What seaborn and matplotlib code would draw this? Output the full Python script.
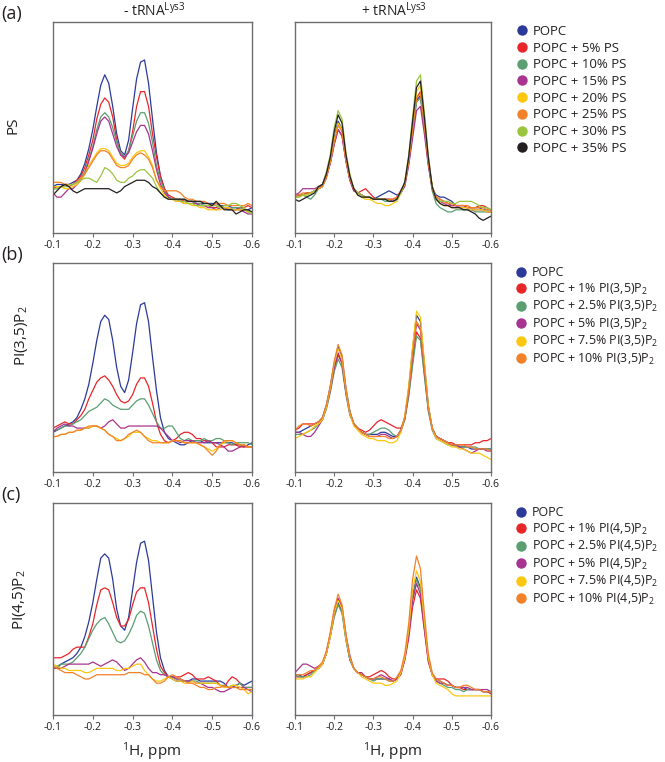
import matplotlib
matplotlib.use("Agg")
import matplotlib.pyplot as plt
import pandas as pd
import seaborn as sns
from matplotlib.lines import Line2D

# %% data: 1H chemical shift grid and spectra (intensity, % of panel height)
ppm = [-0.10, -0.11, -0.12, -0.13, -0.14, -0.15, -0.16, -0.17, -0.18, -0.19,
       -0.20, -0.21, -0.22, -0.23, -0.24, -0.25, -0.26, -0.27, -0.28, -0.29,
       -0.30, -0.31, -0.32, -0.33, -0.34, -0.35, -0.36, -0.37, -0.38, -0.39,
       -0.40, -0.41, -0.42, -0.43, -0.44, -0.45, -0.46, -0.47, -0.48, -0.49,
       -0.50, -0.51, -0.52, -0.53, -0.54, -0.55, -0.56, -0.57, -0.58, -0.59,
       -0.60]

ps_labels = ["POPC", "POPC + 5% PS", "POPC + 10% PS", "POPC + 15% PS",
             "POPC + 20% PS", "POPC + 25% PS", "POPC + 30% PS", "POPC + 35% PS"]
pi35_labels = ["POPC", "POPC + 1% PI(3,5)P$_2$", "POPC + 2.5% PI(3,5)P$_2$",
               "POPC + 5% PI(3,5)P$_2$", "POPC + 7.5% PI(3,5)P$_2$",
               "POPC + 10% PI(3,5)P$_2$"]
pi45_labels = ["POPC", "POPC + 1% PI(4,5)P$_2$", "POPC + 2.5% PI(4,5)P$_2$",
               "POPC + 5% PI(4,5)P$_2$", "POPC + 7.5% PI(4,5)P$_2$",
               "POPC + 10% PI(4,5)P$_2$"]

# (a) PS, - tRNA
ps_free_0 = [22, 23, 23, 23, 23, 24, 25, 28, 33, 40,
             49, 60, 70, 75, 71, 60, 47, 39, 37, 44,
             59, 73, 81, 82, 71, 54, 38, 27, 21, 17,
             16, 16, 15, 15, 15, 15, 14, 14, 14, 14,
             14, 14, 13, 13, 13, 12, 12, 11, 11, 11,
             12]
ps_free_5 = [21, 22, 22, 23, 23, 23, 25, 27, 31, 37,
             44, 54, 61, 64, 62, 55, 44, 37, 35, 39,
             48, 60, 67, 67, 60, 47, 36, 27, 21, 18,
             17, 16, 16, 15, 15, 15, 14, 13, 13, 13,
             12, 12, 13, 12, 12, 11, 11, 12, 12, 13,
             12]
ps_free_10 = [21, 21, 22, 22, 22, 23, 24, 26, 29, 35,
              41, 49, 55, 57, 55, 50, 43, 38, 36, 39,
              46, 53, 57, 57, 52, 43, 32, 25, 20, 17,
              16, 16, 16, 16, 15, 15, 14, 14, 13, 13,
              13, 13, 12, 12, 11, 12, 12, 12, 11, 10,
              10]
ps_free_15 = [19, 17, 17, 19, 21, 21, 23, 25, 28, 34,
              40, 47, 53, 55, 53, 47, 41, 37, 36, 38,
              43, 48, 51, 51, 47, 39, 30, 23, 19, 17,
              16, 15, 15, 14, 14, 14, 14, 13, 13, 12,
              12, 11, 12, 12, 11, 11, 11, 11, 10, 9,
              9]
ps_free_20 = [22, 22, 22, 21, 21, 22, 23, 25, 28, 32,
              35, 38, 40, 40, 39, 36, 33, 32, 32, 33,
              36, 38, 39, 39, 36, 32, 25, 21, 18, 16,
              16, 15, 15, 14, 14, 13, 13, 12, 12, 11,
              11, 11, 11, 12, 12, 11, 11, 11, 11, 10,
              10]
ps_free_25 = [24, 24, 24, 23, 22, 23, 24, 26, 28, 31,
              34, 37, 39, 39, 38, 35, 32, 31, 31, 32,
              35, 37, 38, 37, 35, 31, 25, 22, 20, 20,
              20, 20, 19, 17, 16, 16, 15, 15, 15, 14,
              13, 14, 14, 14, 13, 13, 13, 13, 13, 14,
              13]
ps_free_30 = [21, 21, 22, 22, 23, 23, 24, 25, 26, 26,
              25, 24, 27, 31, 30, 28, 25, 24, 24, 26,
              27, 29, 30, 30, 28, 26, 22, 19, 17, 16,
              16, 16, 15, 15, 14, 14, 13, 13, 13, 13,
              13, 13, 12, 13, 13, 14, 14, 13, 12, 10,
              9]
ps_free_35 = [18, 20, 22, 23, 22, 20, 19, 20, 21, 21,
              21, 21, 21, 21, 21, 20, 19, 20, 22, 23,
              24, 25, 25, 25, 24, 22, 21, 19, 17, 16,
              16, 16, 16, 16, 15, 15, 15, 15, 14, 14,
              13, 15, 13, 11, 11, 11, 9, 10, 11, 11,
              10]

# (a) PS, + tRNA
ps_bound_0 = [18, 18, 18, 19, 19, 20, 21, 23, 27, 35,
              45, 53, 49, 36, 26, 21, 19, 18, 17, 17,
              16, 17, 18, 19, 20, 19, 18, 19, 23, 34,
              48, 63, 65, 50, 34, 21, 18, 17, 17, 16,
              15, 13, 13, 13, 12, 12, 12, 12, 11, 11,
              11]
ps_bound_5 = [17, 18, 18, 19, 19, 20, 21, 22, 26, 33,
              42, 49, 46, 34, 25, 20, 19, 20, 21, 19,
              17, 16, 16, 16, 16, 16, 17, 20, 23, 34,
              49, 64, 67, 52, 34, 22, 17, 16, 15, 14,
              13, 13, 13, 13, 12, 12, 12, 13, 13, 12,
              11]
ps_bound_10 = [17, 17, 18, 17, 16, 18, 21, 22, 27, 34,
               44, 52, 49, 35, 26, 21, 19, 18, 17, 17,
               16, 16, 16, 15, 15, 15, 16, 19, 23, 33,
               47, 62, 64, 50, 33, 20, 14, 12, 11, 10,
               10, 11, 11, 11, 11, 11, 10, 10, 10, 10,
               10]
ps_bound_15 = [18, 19, 21, 21, 21, 21, 22, 23, 27, 33,
               42, 49, 46, 34, 25, 20, 19, 18, 17, 17,
               16, 16, 16, 16, 16, 15, 16, 19, 22, 32,
               45, 58, 60, 47, 32, 21, 16, 15, 14, 13,
               13, 13, 12, 12, 12, 11, 11, 11, 11, 10,
               10]
ps_bound_20 = [17, 17, 18, 18, 19, 20, 21, 22, 27, 34,
               44, 52, 49, 35, 26, 21, 18, 17, 16, 16,
               15, 14, 14, 13, 13, 14, 15, 19, 24, 35,
               51, 67, 70, 54, 35, 22, 16, 14, 13, 13,
               12, 12, 12, 12, 12, 11, 11, 11, 11, 10,
               10]
ps_bound_25 = [18, 18, 19, 19, 19, 20, 21, 22, 27, 34,
               43, 51, 48, 35, 26, 21, 19, 18, 17, 17,
               16, 16, 16, 16, 16, 16, 17, 20, 23, 34,
               49, 64, 66, 51, 34, 22, 17, 16, 15, 14,
               14, 13, 13, 13, 13, 12, 12, 12, 12, 11,
               11]
ps_bound_30 = [17, 17, 18, 18, 19, 20, 22, 23, 29, 37,
               50, 58, 54, 38, 28, 21, 19, 18, 17, 17,
               16, 16, 16, 16, 15, 15, 16, 19, 24, 37,
               55, 72, 75, 57, 37, 22, 16, 15, 15, 15,
               14, 14, 15, 15, 15, 15, 14, 13, 12, 12,
               11]
ps_bound_35 = [16, 15, 16, 17, 18, 19, 22, 23, 28, 36,
               48, 56, 52, 37, 27, 21, 18, 17, 17, 17,
               16, 16, 16, 16, 15, 15, 16, 20, 24, 36,
               53, 69, 72, 55, 36, 22, 16, 14, 13, 13,
               12, 12, 12, 11, 11, 10, 9, 7, 6, 7,
               8]

# (b) PI(3,5)P2, - tRNA
pi35_free_0 = [19, 20, 21, 22, 23, 24, 26, 30, 35, 42,
               52, 63, 72, 75, 73, 63, 50, 41, 38, 44,
               57, 71, 80, 81, 72, 55, 39, 26, 19, 16,
               15, 14, 13, 13, 14, 15, 15, 15, 14, 14,
               14, 14, 14, 14, 14, 14, 13, 13, 12, 13,
               14]
pi35_free_1 = [21, 22, 23, 24, 23, 23, 25, 27, 30, 35,
               39, 43, 45, 46, 44, 41, 37, 34, 33, 34,
               37, 42, 45, 45, 41, 33, 24, 18, 15, 14,
               15, 16, 18, 19, 19, 18, 16, 16, 15, 15,
               14, 12, 12, 12, 13, 13, 13, 12, 12, 12,
               12]
pi35_free_2p5 = [20, 20, 21, 22, 22, 23, 24, 25, 27, 29,
                 30, 31, 33, 35, 34, 32, 31, 30, 30, 30,
                 32, 34, 35, 35, 32, 28, 24, 21, 21, 22,
                 22, 19, 16, 15, 16, 15, 15, 15, 16, 15,
                 15, 16, 16, 15, 14, 13, 14, 14, 14, 14,
                 13]
pi35_free_5 = [19, 21, 22, 23, 22, 22, 21, 21, 21, 21,
               22, 22, 21, 22, 24, 25, 23, 21, 21, 22,
               22, 22, 22, 22, 22, 22, 22, 21, 19, 17,
               15, 15, 14, 15, 15, 15, 14, 14, 14, 15,
               14, 14, 13, 12, 10, 10, 11, 12, 13, 12,
               12]
pi35_free_7p5 = [17, 17, 18, 18, 19, 19, 20, 20, 21, 21,
                 22, 22, 21, 20, 18, 17, 16, 15, 16, 17,
                 19, 19, 19, 17, 16, 15, 15, 14, 14, 14,
                 15, 15, 15, 14, 14, 14, 14, 13, 12, 11,
                 10, 11, 13, 14, 15, 15, 14, 13, 13, 12,
                 12]
pi35_free_10 = [17, 17, 18, 18, 19, 19, 20, 20, 21, 22,
                22, 22, 21, 20, 18, 17, 15, 15, 16, 18,
                19, 20, 19, 17, 15, 14, 14, 14, 14, 14,
                15, 15, 15, 14, 14, 14, 14, 13, 12, 10,
                8, 10, 13, 15, 15, 15, 14, 13, 13, 12,
                12]

# (b) PI(3,5)P2, + tRNA
pi35_bound_0 = [19, 19, 20, 21, 22, 23, 24, 26, 32, 41,
                52, 60, 55, 40, 29, 23, 21, 19, 18, 18,
                18, 18, 19, 19, 18, 17, 17, 20, 26, 40,
                59, 75, 72, 52, 32, 21, 17, 16, 15, 14,
                13, 13, 12, 12, 12, 11, 11, 11, 11, 11,
                11]
pi35_bound_1 = [20, 21, 23, 23, 23, 23, 24, 25, 31, 39,
                49, 56, 52, 38, 28, 23, 21, 20, 19, 20,
                22, 24, 25, 24, 23, 22, 21, 21, 25, 37,
                53, 67, 64, 47, 30, 21, 17, 16, 15, 14,
                14, 13, 13, 13, 13, 13, 14, 14, 15, 15,
                16]
pi35_bound_2p5 = [18, 18, 18, 19, 20, 21, 23, 25, 30, 38,
                  48, 54, 50, 37, 27, 23, 21, 19, 18, 18,
                  19, 20, 21, 21, 20, 18, 17, 19, 25, 36,
                  51, 65, 63, 46, 29, 20, 16, 15, 14, 13,
                  13, 12, 12, 12, 12, 12, 12, 11, 11, 11,
                  11]
pi35_bound_5 = [19, 19, 18, 17, 17, 19, 22, 25, 31, 39,
                50, 57, 52, 38, 28, 23, 21, 19, 18, 17,
                17, 17, 18, 18, 17, 16, 17, 20, 26, 38,
                56, 71, 68, 49, 31, 21, 17, 16, 15, 14,
                13, 13, 12, 11, 10, 9, 10, 11, 11, 10,
                10]
pi35_bound_7p5 = [16, 17, 18, 19, 20, 22, 23, 25, 31, 40,
                  52, 59, 54, 39, 28, 22, 20, 18, 17, 16,
                  16, 15, 15, 15, 14, 14, 15, 19, 27, 41,
                  60, 77, 74, 53, 32, 21, 16, 15, 14, 13,
                  12, 12, 11, 11, 10, 9, 9, 9, 8, 7,
                  6]
pi35_bound_10 = [20, 22, 23, 23, 22, 23, 24, 26, 32, 41,
                 53, 61, 56, 40, 29, 23, 21, 19, 18, 17,
                 17, 17, 17, 17, 16, 16, 17, 20, 26, 39,
                 57, 72, 69, 50, 31, 21, 17, 16, 15, 14,
                 13, 13, 13, 13, 12, 12, 11, 11, 11, 11,
                 10]

# (c) PI(4,5)P2, - tRNA
pi45_free_0 = [22, 22, 24, 25, 26, 27, 29, 32, 37, 44,
               53, 64, 74, 76, 74, 64, 50, 42, 40, 46,
               59, 72, 81, 82, 73, 56, 39, 27, 21, 18,
               17, 16, 16, 16, 16, 17, 17, 16, 16, 16,
               16, 16, 16, 15, 13, 13, 14, 15, 14, 15,
               16]
pi45_free_1 = [27, 27, 27, 28, 29, 31, 32, 32, 32, 37,
               43, 52, 59, 60, 59, 53, 46, 42, 42, 45,
               52, 58, 60, 60, 53, 42, 31, 23, 20, 18,
               18, 18, 18, 19, 20, 19, 17, 17, 17, 18,
               17, 16, 14, 13, 16, 18, 17, 15, 13, 13,
               13]
pi45_free_2p5 = [22, 23, 24, 24, 24, 25, 27, 29, 32, 36,
                 40, 43, 45, 46, 43, 39, 35, 34, 35, 38,
                 42, 47, 49, 48, 42, 34, 26, 21, 19, 18,
                 18, 17, 17, 16, 16, 16, 16, 15, 15, 15,
                 15, 15, 14, 14, 13, 14, 14, 15, 13, 13,
                 13]
pi45_free_5 = [22, 22, 22, 23, 24, 24, 24, 24, 24, 24,
               25, 24, 23, 24, 25, 26, 25, 23, 21, 22,
               24, 26, 27, 25, 22, 20, 20, 19, 19, 18,
               18, 17, 17, 16, 16, 16, 15, 15, 14, 13,
               13, 12, 11, 11, 12, 13, 13, 13, 13, 12,
               11]
pi45_free_7p5 = [24, 23, 22, 22, 21, 21, 21, 21, 20, 20,
                 21, 22, 22, 22, 22, 22, 21, 21, 22, 22,
                 23, 24, 24, 21, 19, 17, 16, 16, 17, 18,
                 17, 16, 16, 15, 15, 16, 15, 15, 15, 15,
                 15, 15, 14, 13, 13, 14, 14, 13, 12, 10,
                 11]
pi45_free_10 = [23, 22, 21, 20, 20, 20, 19, 18, 17, 17,
                18, 19, 19, 19, 19, 19, 19, 19, 19, 20,
                20, 20, 20, 19, 19, 17, 15, 15, 16, 18,
                19, 18, 17, 16, 15, 15, 14, 13, 13, 12,
                12, 13, 13, 14, 13, 13, 13, 12, 12, 12,
                12]

# (c) PI(4,5)P2, + tRNA
pi45_bound_0 = [19, 19, 18, 19, 20, 21, 22, 24, 29, 37,
                47, 53, 49, 36, 26, 22, 20, 19, 18, 17,
                17, 17, 17, 17, 17, 16, 17, 20, 27, 39,
                56, 65, 60, 43, 27, 19, 17, 16, 15, 14,
                14, 13, 13, 13, 12, 12, 12, 12, 11, 11,
                11]
pi45_bound_1 = [18, 18, 18, 19, 20, 21, 22, 24, 29, 38,
                49, 55, 50, 36, 27, 22, 20, 19, 18, 18,
                19, 20, 21, 20, 18, 17, 17, 19, 26, 36,
                51, 59, 55, 40, 25, 19, 17, 17, 17, 16,
                14, 13, 13, 12, 12, 12, 12, 12, 11, 11,
                10]
pi45_bound_2p5 = [19, 18, 18, 18, 19, 21, 22, 24, 29, 37,
                  46, 52, 48, 35, 26, 22, 20, 19, 18, 17,
                  16, 17, 17, 17, 16, 16, 17, 20, 27, 39,
                  55, 64, 59, 42, 27, 19, 16, 15, 14, 13,
                  13, 12, 12, 11, 12, 12, 12, 12, 11, 11,
                  11]
pi45_bound_5 = [20, 22, 24, 24, 23, 22, 23, 24, 30, 38,
                48, 55, 51, 38, 28, 22, 20, 20, 18, 17,
                17, 18, 19, 18, 17, 16, 17, 20, 26, 38,
                54, 62, 57, 41, 26, 19, 16, 15, 15, 14,
                14, 13, 13, 13, 13, 12, 12, 12, 12, 12,
                11]
pi45_bound_7p5 = [17, 17, 17, 18, 18, 20, 22, 24, 29, 37,
                  48, 54, 50, 36, 27, 22, 20, 18, 17, 16,
                  15, 15, 15, 14, 14, 15, 16, 20, 27, 40,
                  59, 68, 63, 44, 27, 19, 15, 14, 13, 12,
                  10, 9, 9, 9, 9, 9, 9, 9, 9, 9,
                  9]
pi45_bound_10 = [19, 19, 19, 20, 21, 21, 23, 25, 30, 39,
                 50, 57, 52, 38, 27, 22, 20, 19, 18, 17,
                 17, 18, 18, 17, 16, 16, 18, 21, 29, 43,
                 64, 75, 69, 48, 29, 20, 17, 16, 15, 14,
                 14, 13, 13, 14, 14, 13, 12, 12, 11, 11,
                 11]

# %% style
sns.set_style("white")
plt.rcParams["font.family"] = ["Open Sans", "DejaVu Sans"]
plt.rcParams["mathtext.fontset"] = "custom"
plt.rcParams["mathtext.rm"] = "Open Sans"
plt.rcParams["mathtext.it"] = "Open Sans:italic"
plt.rcParams["axes.unicode_minus"] = False

colors = ["#2b3a98", "#e8262a", "#5a9e72", "#a8348f",
          "#fbc70f", "#f2822a", "#9bc53d", "#231f20"]
frame = "#6d6e71"
ink = "#231f20"

W, H = 665, 762
fig = plt.figure(figsize=(W / 100, H / 100), dpi=100)


def px_axes(left, top, right, bottom):
    return fig.add_axes([left / W, 1 - bottom / H, (right - left) / W, (bottom - top) / H])


def draw(ax, curves, labels):
    df = pd.concat(
        [pd.DataFrame({"ppm": ppm, "intensity": c, "sample": lab})
         for c, lab in zip(curves, labels)],
        ignore_index=True,
    )
    sns.lineplot(
        data=df, x="ppm", y="intensity", hue="sample", hue_order=labels,
        palette=colors[: len(labels)], estimator=None, legend=False,
        linewidth=0.9, ax=ax,
    )
    ax.set_xlim(-0.1, -0.6)
    ax.set_ylim(0, 100)
    ax.set_xticks([-0.1, -0.2, -0.3, -0.4, -0.5, -0.6])
    ax.set_xticklabels(["-0.1", "-0.2", "-0.3", "-0.4", "-0.5", "-0.6"])
    ax.set_yticks([])
    ax.set_xlabel("")
    ax.set_ylabel("")
    ax.tick_params(axis="x", bottom=True, direction="out", length=3, width=0.8,
                   color=frame, pad=2, labelsize=7.5, labelcolor=ink)
    for s in ax.spines.values():
        s.set_color(frame)
        s.set_linewidth(1.0)


rows = [
    (22, 233, [ps_free_0, ps_free_5, ps_free_10, ps_free_15, ps_free_20,
               ps_free_25, ps_free_30, ps_free_35],
     [ps_bound_0, ps_bound_5, ps_bound_10, ps_bound_15, ps_bound_20,
      ps_bound_25, ps_bound_30, ps_bound_35], ps_labels, "PS", "(a)", 13, 125,
     9.5, 0.28),
    (263, 472, [pi35_free_0, pi35_free_1, pi35_free_2p5, pi35_free_5,
                pi35_free_7p5, pi35_free_10],
     [pi35_bound_0, pi35_bound_1, pi35_bound_2p5, pi35_bound_5,
      pi35_bound_7p5, pi35_bound_10], pi35_labels, "PI(3,5)P$_2$", "(b)", 22, 336,
     8.9, 0.2),
    (503, 715, [pi45_free_0, pi45_free_1, pi45_free_2p5, pi45_free_5,
                pi45_free_7p5, pi45_free_10],
     [pi45_bound_0, pi45_bound_1, pi45_bound_2p5, pi45_bound_5,
      pi45_bound_7p5, pi45_bound_10], pi45_labels, "PI(4,5)P$_2$", "(c)", 19, 600,
     8.9, 0.2),
]

for top, bottom, free, bound, labels, ylab, tag, ylx, yly, lfs, lsp in rows:
    ax1 = px_axes(53, top, 252, bottom)
    ax2 = px_axes(295, top, 491, bottom)
    draw(ax1, free, labels)
    draw(ax2, bound, labels)

    fig.text(ylx / W, 1 - yly / H, ylab, rotation=90, ha="center", va="center",
             fontsize=11, color=ink)
    fig.text(1 / W, 1 - (top - 8) / H, tag, ha="left", va="center",
             fontsize=13, color=ink)

    handles = [Line2D([], [], ls="", marker="o", ms=7.5, color=c,
                      markeredgewidth=0) for c in colors[: len(labels)]]
    ax2.legend(handles, labels, loc="upper left",
               bbox_to_anchor=(515 / W, 1 - (top + 3) / H),
               bbox_transform=fig.transFigure, frameon=False, borderpad=0,
               borderaxespad=0, handlelength=1.0, handletextpad=0.35,
               labelspacing=lsp, fontsize=lfs, labelcolor=ink)

fig.text(154 / W, 1 - 11 / H, "- tRNA$^{\\mathrm{Lys3}}$", ha="center",
         va="center", fontsize=10, color=ink)
fig.text(394 / W, 1 - 11 / H, "+ tRNA$^{\\mathrm{Lys3}}$", ha="center",
         va="center", fontsize=10, color=ink)
for cx in (152, 393):
    fig.text(cx / W, 1 - 752 / H, "$^1$H, ppm", ha="center", va="center",
             fontsize=11, color=ink)

fig.savefig("out.png", dpi=100)
